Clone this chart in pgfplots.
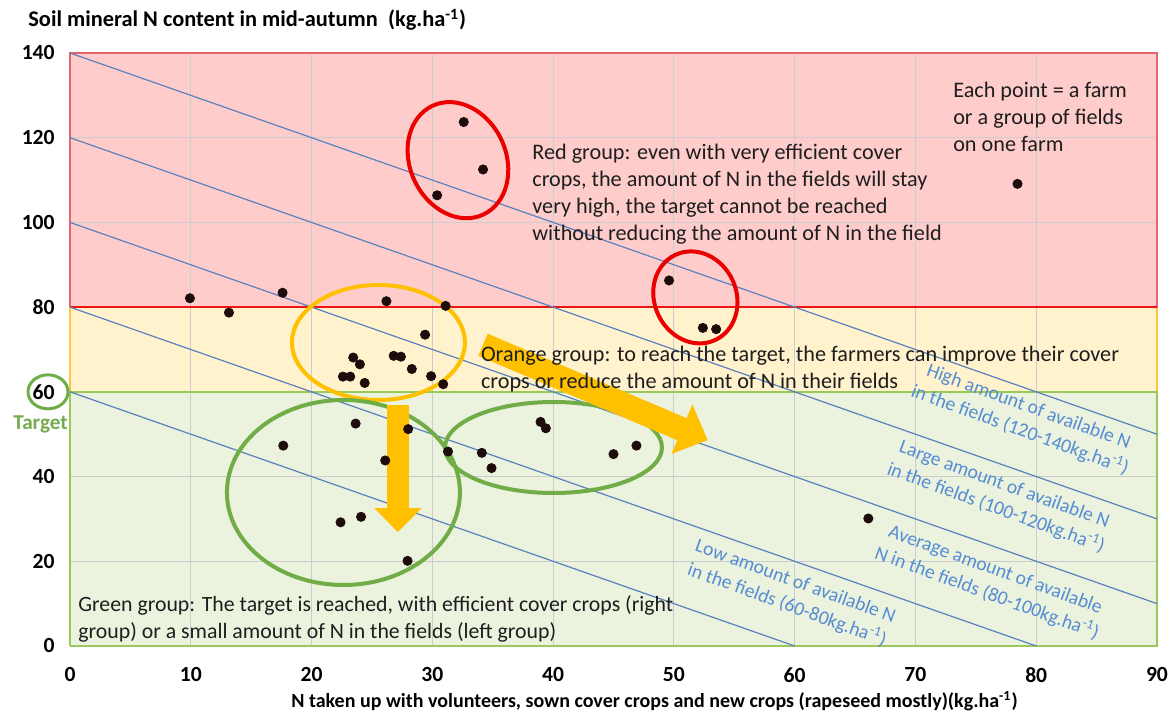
\documentclass[border=0pt]{standalone}
\usepackage{fontspec}
\setmainfont{Carlito}
\usepackage{pgfplots}
\pgfplotsset{compat=1.18}
\usetikzlibrary{arrows.meta}
\definecolor{redfill}{RGB}{255,204,204}
\definecolor{orfill}{RGB}{255,242,204}
\definecolor{grfill}{RGB}{235,242,222}
\definecolor{redline}{RGB}{240,20,20}
\definecolor{redborder}{RGB}{230,100,110}
\definecolor{orborder}{RGB}{255,200,60}
\definecolor{grborder}{RGB}{155,200,90}
\definecolor{gold}{RGB}{255,192,0}
\definecolor{ellgreen}{RGB}{112,173,71}
\definecolor{ellred}{RGB}{235,0,0}
\definecolor{diag}{RGB}{90,130,190}
\definecolor{bluetxt}{RGB}{84,141,212}
\definecolor{dotc}{RGB}{30,12,12}
\definecolor{txt}{RGB}{30,30,30}
\definecolor{targetgreen}{RGB}{118,170,80}

\pgfplotstableread{
x y
9.93 82.1
17.6 83.4
26.2 81.4
31.1 80.3
32.6 123.7
34.2 112.5
30.4 106.4
49.6 86.3
78.45 109.1
13.16 78.7
29.4 73.5
23.45 68.1
24.0 66.5
26.8 68.5
27.4 68.3
28.3 65.4
22.6 63.6
23.2 63.6
24.4 62.1
29.9 63.7
30.9 61.8
52.4 75.1
53.5 74.8
23.65 52.5
17.66 47.3
28.0 51.2
26.1 43.8
31.3 45.9
34.1 45.6
34.9 42.0
22.4 29.2
24.1 30.5
27.95 20.1
38.96 52.9
39.4 51.4
45.0 45.3
46.9 47.3
66.1 30.1
}\farms

\begin{document}
\begin{tikzpicture}
\begin{axis}[
 set layers,
 scale only axis,
 width=543.5pt, height=296.5pt,
 xmin=0, xmax=90, ymin=0, ymax=140,
 xtick={0,10,...,90}, ytick={0,20,...,140},
 grid=major,
 major grid style={color=black!20, line width=0.5pt},
 axis line style={draw=none},
 major tick length=0pt,
 clip=false,
 tick label style={font=\fontsize{10.8}{12}\selectfont\bfseries, inner sep=0pt},
 /pgf/number format/assume math mode=true,
 yticklabel style={xshift=-7.5pt},
 xticklabel style={yshift=-10.5pt},
]
% bands
\addplot[on layer=axis background, draw=none, fill=orfill] coordinates {(0,60) (90,60) (90,80) (0,80)} -- cycle;
\addplot[on layer=axis background, draw=none, fill=grfill] coordinates {(0,0) (90,0) (90,60) (0,60)} -- cycle;
\addplot[on layer=axis background, draw=none, fill=redfill] coordinates {(0,80) (90,80) (90,140) (0,140)} -- cycle;
% band borders
\addplot[orborder, line width=1pt] coordinates {(0,60) (90,60) (90,80) (0,80) (0,60)};
\addplot[grborder, line width=1pt] coordinates {(0,0) (90,0) (90,60) (0,60) (0,0)};
\addplot[redborder, line width=1pt] coordinates {(0,80) (90,80) (90,140) (0,140) (0,80)};
\addplot[redline, line width=1pt] coordinates {(0,80) (90,80)};
% iso-lines x+y = const
\addplot[diag, line width=0.6pt] coordinates {(0,60) (60,0)};
\addplot[diag, line width=0.6pt] coordinates {(0,80) (80,0)};
\addplot[diag, line width=0.6pt] coordinates {(0,100) (90,10)};
\addplot[diag, line width=0.6pt] coordinates {(0,120) (90,30)};
\addplot[diag, line width=0.6pt] coordinates {(0,140) (90,50)};
% farms
\addplot[only marks, mark=*, mark size=2.3pt, mark options={draw=dotc, fill=dotc}] table[x=x, y=y] {\farms};
% ellipses
\draw[ellred, line width=2pt] (axis cs:32.12,114.7) circle[x radius=24pt, y radius=30pt, rotate=25];
\draw[ellred, line width=2pt] (axis cs:51.78,82.3) circle[x radius=20.5pt, y radius=23.5pt, rotate=25];
\draw[gold, line width=2pt] (axis cs:25.54,71.65) circle[x radius=43.25pt, y radius=28.75pt];
\draw[ellgreen, line width=2pt] (axis cs:22.64,36.24) circle[x radius=58.25pt, y radius=46.25pt];
\draw[ellgreen, line width=2pt] (axis cs:40.03,46.86) circle[x radius=54.25pt, y radius=22.75pt];
% arrows
\draw[gold, line width=11pt, -{Triangle[width=23pt, length=12pt]}] (axis cs:27.15,56.9) -- (axis cs:27.15,26.9);
\draw[gold, line width=12pt, -{Triangle[width=26pt, length=14pt]}] (axis cs:34.2,71.1) -- (axis cs:52.8,48.6);
% texts
\node[anchor=north west, inner sep=0pt, align=left, text=txt, font=\fontsize{11.1}{13.5}\selectfont] at (axis cs:73.1,133.3) {Each point = a farm\\or a group of fields\\on one farm};
\node[anchor=north west, inner sep=0pt, align=left, text=txt, font=\fontsize{11.1}{13.5}\selectfont] at (axis cs:38.25,118.6) {Red group: even with very efficient cover\\crops, the amount of N in the fields will stay\\very high, the target cannot be reached\\without reducing the amount of N in the field};
\node[anchor=north west, inner sep=0pt, align=left, text=txt, font=\fontsize{11.1}{13.5}\selectfont] at (axis cs:34.0,70.9) {Orange group: to reach the target, the farmers can improve their cover\\crops or reduce the amount of N in their fields};
\node[anchor=north west, inner sep=0pt, align=left, text=txt, font=\fontsize{10.9}{13.5}\selectfont] at (axis cs:0.66,12.0) {Green group: The target is reached, with efficient cover crops (right\\group) or a small amount of N in the fields (left group)};
\node[rotate=-20, align=center, inner sep=0pt, text=bluetxt, font=\fontsize{9.8}{12.5}\selectfont] at (axis cs:79.0,53.6) {High amount of available N\\in the fields (120-140kg.ha\textsuperscript{-1})};
\node[rotate=-20, align=center, inner sep=0pt, text=bluetxt, font=\fontsize{9.8}{12.5}\selectfont] at (axis cs:77.0,35.2) {Large amount of available N\\in the fields (100-120kg.ha\textsuperscript{-1})};
\node[rotate=-20, align=center, inner sep=0pt, text=bluetxt, font=\fontsize{9.8}{12.5}\selectfont] at (axis cs:76.25,15.1) {Average amount of available\\N in the fields (80-100kg.ha\textsuperscript{-1})};
\node[rotate=-20, align=center, inner sep=0pt, text=bluetxt, font=\fontsize{9.8}{12.5}\selectfont] at (axis cs:59.7,12.3) {Low amount of available N\\in the fields (60-80kg.ha\textsuperscript{-1})};
% target
\draw[ellgreen, line width=1.5pt] (axis cs:-1.82,60.0) circle[x radius=10pt, y radius=8.5pt];
\node[text=targetgreen, inner sep=0pt, font=\fontsize{10.6}{12}\selectfont\bfseries] at (axis cs:-2.44,52.4) {Target};
% titles
\node[anchor=base west, inner sep=0pt, xshift=-21pt, yshift=13pt, font=\fontsize{11.2}{12}\selectfont\bfseries] at (axis cs:0,140) {Soil mineral N content in mid-autumn\ \ (kg.ha\textsuperscript{-1})};
\node[anchor=base, inner sep=0pt, yshift=-31pt, font=\fontsize{10}{12}\selectfont\bfseries] at (axis cs:48.4,0) {N taken up with volunteers, sown cover crops and new crops (rapeseed mostly)(kg.ha\textsuperscript{-1})};
\end{axis}
\path (current axis.south west) ++(-35pt,-34.5pt) rectangle ++(584.5pt,357.5pt);
\end{tikzpicture}
\end{document}
